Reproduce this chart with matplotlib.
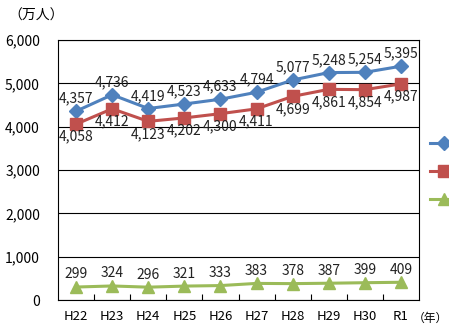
import matplotlib
matplotlib.use("Agg")
import matplotlib.pyplot as plt
from matplotlib.ticker import FixedLocator, FuncFormatter

plt.rcParams['font.family'] = ['Noto Sans CJK JP', 'DejaVu Sans']

years = ["H22", "H23", "H24", "H25", "H26", "H27", "H28", "H29", "H30", "R1"]
total = [4357, 4736, 4419, 4523, 4633, 4794, 5077, 5248, 5254, 5395]
japanese = [4058, 4412, 4123, 4202, 4300, 4411, 4699, 4861, 4854, 4987]
foreign = [299, 324, 296, 321, 333, 383, 378, 387, 399, 409]
series_names = ["総数", "日本人", "外国人"]

fig = plt.figure(figsize=(4.49, 3.24), dpi=100)
ax = fig.add_axes([58/449, 24/324, 361/449, 260/324])

x = list(range(len(years)))
blue, red, green = "#4F81BD", "#C0504D", "#9BBB59"
l1, = ax.plot(x, total, color=blue, lw=2.2, marker="D", ms=7, label=series_names[0], zorder=3)
l2, = ax.plot(x, japanese, color=red, lw=2.2, marker="s", ms=9, label=series_names[1], zorder=3)
l3, = ax.plot(x, foreign, color=green, lw=2.2, marker="^", ms=9, label=series_names[2], zorder=3)

fs = 10
for xi, v in zip(x, total):
    ax.annotate(f"{v:,}", (xi, v), xytext=(0, 4), textcoords="offset points",
                ha="center", va="bottom", fontsize=fs, color="#222222")
for xi, v in zip(x, japanese):
    ax.annotate(f"{v:,}", (xi, v), xytext=(0, -4), textcoords="offset points",
                ha="center", va="top", fontsize=fs, color="#222222")
for xi, v in zip(x, foreign):
    ax.annotate(f"{v:,}", (xi, v), xytext=(0, 4), textcoords="offset points",
                ha="center", va="bottom", fontsize=fs, color="#222222")

ax.set_xlim(-0.5, len(years) - 0.5)
ax.set_ylim(0, 6000)
ax.set_yticks(range(0, 6001, 1000))
ax.yaxis.set_major_formatter(FuncFormatter(lambda v, p: f"{int(v):,}"))
ax.grid(axis="y", color="black", lw=0.8)
ax.set_axisbelow(True)
ax.tick_params(axis="y", length=0, pad=13, labelsize=10)
ax.set_xticks(x)
ax.set_xticklabels(years)
ax.tick_params(axis="x", which="major", length=0, pad=7, labelsize=9.5)
ax.xaxis.set_minor_locator(FixedLocator([i + 0.5 for i in range(len(years) - 1)]))
ax.tick_params(axis="x", which="minor", direction="in", length=4, width=0.8)
for s in ax.spines.values():
    s.set_color("black")
    s.set_linewidth(0.8)

fig.text(8/449, 1 - 16/324, "（万人）", fontsize=10, va="center", ha="left")
fig.text(448/449, 1 - 318/324, "（年）", fontsize=8.5, va="center", ha="right")

fig.legend(handles=[l1, l2, l3], labels=["", "", ""], loc="upper left",
           bbox_to_anchor=(425/449, 1 - 132/324),
           frameon=False, handlelength=2.2, labelspacing=1.2, fontsize=9, borderaxespad=0)

fig.savefig("out.png", dpi=100)
